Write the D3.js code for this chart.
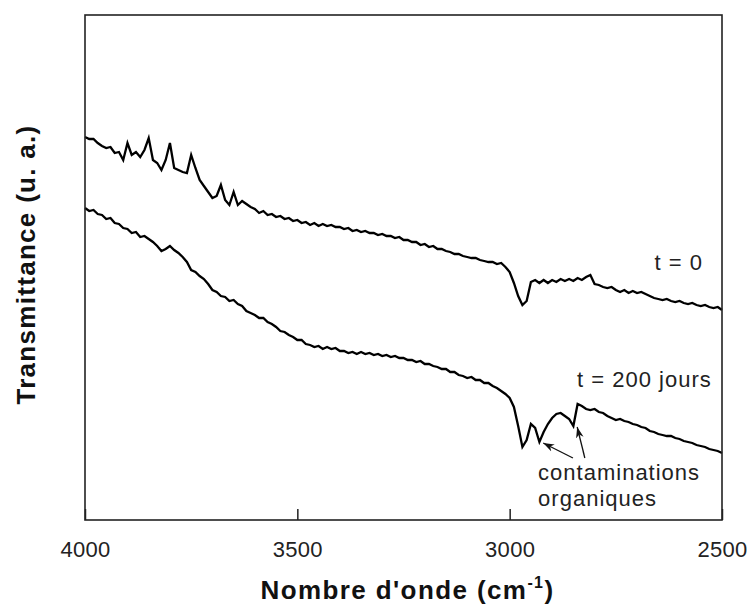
<!DOCTYPE html>
<html>
<head>
<meta charset="utf-8">
<script src="https://cdn.jsdelivr.net/npm/d3@7"></script>
<style>
  html, body { margin: 0; padding: 0; background: #fff; }
  svg { display: block; }
  text { font-family: "Liberation Sans", Arial, sans-serif; }
</style>
</head>
<body>
<svg id="chart" width="749" height="605"></svg>
<script>
// Wavenumbers (cm^-1), sampling grid of the spectra
const wavenumbers = [4000,3990,3980,3970,3960,3950,3940,3930,3920,3910,3900,3890,3880,3870,3860,3850,3840,3830,3820,3810,
3800,3790,3780,3770,3760,3750,3740,3730,3720,3710,3700,3690,3680,3670,3660,3650,3640,3630,3620,3610,
3600,3590,3580,3570,3560,3550,3540,3530,3520,3510,3500,3490,3480,3470,3460,3450,3440,3430,3420,3410,
3400,3390,3380,3370,3360,3350,3340,3330,3320,3310,3300,3290,3280,3270,3260,3250,3240,3230,3220,3210,
3200,3190,3180,3170,3160,3150,3140,3130,3120,3110,3100,3090,3080,3070,3060,3050,3040,3030,3020,3010,
3000,2990,2980,2970,2960,2950,2940,2930,2920,2910,2900,2890,2880,2870,2860,2850,2840,2830,2820,2810,
2800,2790,2780,2770,2760,2750,2740,2730,2720,2710,2700,2690,2680,2670,2660,2650,2640,2630,2620,2610,
2600,2590,2580,2570,2560,2550,2540,2530,2520,2510,2500];

// Transmittance (u. a.), t = 0
const seriesT0 = [38.3,38.1,38.1,37.7,37.4,37.2,37.3,36.7,36.8,36.0,37.7,36.5,36.8,36.3,37.0,38.2,36.0,35.7,35.0,36.0,
37.7,35.2,35.0,34.8,34.7,36.5,35.2,34.0,33.4,32.8,32.2,32.4,33.5,32.0,31.5,32.8,31.5,31.9,31.6,31.3,
31.1,30.7,30.9,30.5,30.6,30.3,30.4,30.1,30.2,29.9,30.0,29.7,29.8,29.5,29.7,29.4,29.6,29.4,29.5,29.3,
29.3,29.1,29.2,28.9,29.0,28.8,28.9,28.7,28.7,28.5,28.6,28.4,28.4,28.2,28.3,28.0,28.0,27.8,27.8,27.5,
27.6,27.3,27.4,27.1,27.1,26.9,26.8,26.6,26.6,26.4,26.3,26.2,26.2,26.0,25.9,25.8,25.8,25.6,25.7,25.3,
24.8,23.7,22.4,21.5,21.9,23.8,24.0,23.7,24.0,23.7,24.0,23.8,24.1,23.9,24.1,23.9,24.2,24.0,24.3,24.5,
23.6,23.5,23.3,23.2,23.3,23.0,22.8,23.0,22.7,22.9,22.7,22.8,22.6,22.4,22.2,22.1,22.0,22.1,21.9,21.8,
21.9,21.7,21.6,21.7,21.5,21.4,21.5,21.3,21.2,21.3,21.0];

// Transmittance (u. a.), t = 200 jours
const seriesT200 = [31.2,30.9,31.0,30.6,30.5,30.1,30.2,29.7,29.6,29.2,29.1,28.7,28.8,28.3,28.4,28.1,27.8,27.4,26.9,27.1,
27.4,27.0,26.7,26.3,25.8,25.0,24.8,24.4,24.1,23.6,23.0,22.8,22.4,22.3,21.9,22.0,21.6,21.4,20.9,20.7,
20.5,20.2,20.2,19.8,19.6,19.3,18.9,18.8,18.5,18.3,18.0,18.0,17.6,17.5,17.3,17.4,17.1,17.3,17.1,17.2,
16.9,16.9,16.7,16.8,16.6,16.8,16.6,16.7,16.5,16.6,16.4,16.5,16.3,16.4,16.2,16.2,16.0,16.0,15.8,15.9,
15.6,15.6,15.4,15.3,15.1,15.1,14.8,14.8,14.5,14.4,14.2,14.3,14.0,14.0,13.7,13.7,13.4,13.2,12.9,12.6,
12.2,11.3,9.4,7.3,8.0,9.6,9.2,7.8,8.8,9.6,10.2,10.6,10.7,10.4,10.1,9.4,11.6,11.4,11.1,11.0,
11.1,10.8,10.7,10.4,10.2,10.0,10.1,9.9,9.8,9.6,9.5,9.3,9.2,8.9,8.8,8.6,8.5,8.4,8.4,8.2,
8.1,7.9,7.8,7.7,7.5,7.4,7.3,7.1,7.0,6.9,6.7];

const xTicks = [4000, 3500, 3000, 2500];
const xDomain = [4000, 2500];
const yDomain = [0, 50.5];

// Annotations (data coordinates)
const labelT0 = { text: "t = 0", w: 2545, v: 25.0 };
const labelT200 = { text: "t = 200 jours", w: 2524, v: 13.3 };
const labelContam = [
  { text: "contaminations", w: 2933, v: 4.0 },
  { text: "organiques", w: 2933, v: 1.4 }
];
const arrows = [
  { from: [2851, 6.2], to: [2921, 7.7] },
  { from: [2823, 6.2], to: [2841, 9.3] }
];

const svg = d3.select("#chart");
const margin = { left: 85, top: 15, right: 27, bottom: 85 };
const W = 749, H = 605;
const x = d3.scaleLinear().domain(xDomain).range([margin.left, W - margin.right]);
const y = d3.scaleLinear().domain(yDomain).range([H - margin.bottom, margin.top]);

svg.append("defs").append("marker")
  .attr("id", "arrow").attr("viewBox", "0 0 10 10")
  .attr("refX", 10).attr("refY", 5)
  .attr("markerWidth", 11).attr("markerHeight", 11)
  .attr("markerUnits", "userSpaceOnUse")
  .attr("orient", "auto")
  .append("path").attr("d", "M0,1.5 L10,5 L0,8.5 L3,5 Z").attr("fill", "#111");

const line = d3.line().x(d => x(d[0])).y(d => y(d[1]));

[seriesT0, seriesT200].forEach(s => {
  svg.append("path")
    .datum(wavenumbers.map((w, i) => [w, s[i]]))
    .attr("d", line)
    .attr("fill", "none")
    .attr("stroke", "#000")
    .attr("stroke-width", 2.3)
    .attr("stroke-linejoin", "miter");
});

// axis
const xAxis = d3.axisBottom(x).tickValues(xTicks).tickFormat(d3.format("d"))
  .tickSizeInner(-11).tickSizeOuter(0).tickPadding(21);
const gx = svg.append("g").attr("transform", `translate(0,${y(0)})`).call(xAxis);
gx.select(".domain").remove();
gx.selectAll(".tick line").attr("stroke", "#222").attr("stroke-width", 1.5);
gx.selectAll(".tick text").attr("font-size", 22).attr("fill", "#222")
  .attr("letter-spacing", 0.3)
  .style("font-family", '"Liberation Sans", Arial, sans-serif');

// frame
svg.append("rect")
  .attr("x", x(4000)).attr("y", y(50.5))
  .attr("width", x(2500) - x(4000)).attr("height", y(0) - y(50.5))
  .attr("fill", "none").attr("stroke", "#222").attr("stroke-width", 1.6);

// annotations
const annoStyle = sel => sel.attr("font-size", 22).attr("fill", "#222").attr("letter-spacing", 1);
svg.append("text").attr("x", x(labelT0.w)).attr("y", y(labelT0.v))
  .attr("text-anchor", "end").call(annoStyle).text(labelT0.text);
svg.append("text").attr("x", x(labelT200.w)).attr("y", y(labelT200.v))
  .attr("text-anchor", "end").call(annoStyle).text(labelT200.text);
labelContam.forEach(l => {
  svg.append("text").attr("x", x(l.w)).attr("y", y(l.v)).call(annoStyle).text(l.text);
});
arrows.forEach(a => {
  svg.append("line")
    .attr("x1", x(a.from[0])).attr("y1", y(a.from[1]))
    .attr("x2", x(a.to[0])).attr("y2", y(a.to[1]))
    .attr("stroke", "#111").attr("stroke-width", 1.3)
    .attr("marker-end", "url(#arrow)");
});

// axis titles
const xt = svg.append("text").attr("x", (x(4000) + x(2500)) / 2 + 4).attr("y", 599)
  .attr("text-anchor", "middle").attr("font-size", 26).attr("font-weight", "bold")
  .attr("letter-spacing", 1.4).attr("fill", "#111");
xt.append("tspan").text("Nombre d'onde (cm");
xt.append("tspan").attr("font-size", 16).attr("dy", -11).text("-1");
xt.append("tspan").attr("dy", 11).text(")");

svg.append("text")
  .attr("transform", `translate(35,${(y(0) + y(50.5)) / 2 - 3}) rotate(-90)`)
  .attr("text-anchor", "middle").attr("font-size", 26).attr("font-weight", "bold")
  .attr("letter-spacing", 1.3).attr("fill", "#111")
  .text("Transmittance (u. a.)");
</script>
</body>
</html>
